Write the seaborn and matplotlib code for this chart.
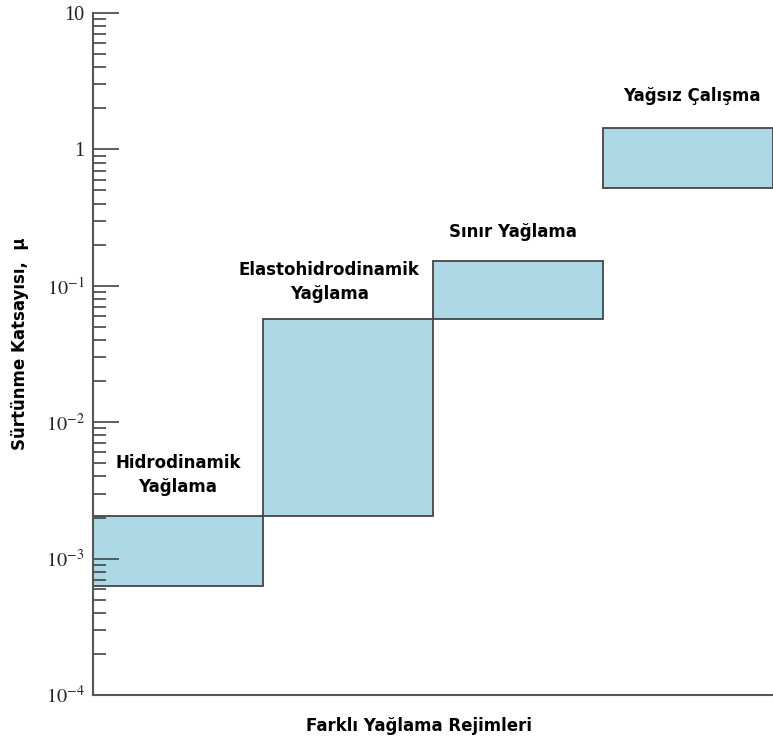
import matplotlib
matplotlib.use("Agg")
import matplotlib.pyplot as plt
import seaborn as sns
import numpy as np
import pandas as pd
from matplotlib.ticker import LogLocator, NullFormatter, FixedLocator

regimes = ["Hidrodinamik", "Elastohidrodinamik", "Sınır", "Yağsız"]
mu_low = [6.3e-4, 2.05e-3, 0.057, 0.52]
mu_high = [2.05e-3, 0.057, 0.152, 1.43]
labels = ["Hidrodinamik\nYağlama", "Elastohidrodinamik\nYağlama", "Sınır Yağlama", "Yağsız Çalışma"]
label_x = [0.0, 0.89, 1.97, 3.02]
label_y = [4.1e-3, 0.107, 0.248, 2.46]
ytick_vals = [1e-4, 1e-3, 1e-2, 1e-1, 1, 10]
ytick_labels = [r"$10^{-4}$", r"$10^{-3}$", r"$10^{-2}$", r"$10^{-1}$", "1", "10"]

sns.set_style("white")
plt.rcParams["font.family"] = ["DejaVu Sans"]
plt.rcParams["mathtext.fontset"] = "stix"
plt.rcParams["text.color"] = "black"
plt.rcParams["axes.labelcolor"] = "black"

fig = plt.figure(figsize=(7.73, 7.46), dpi=100)
ax = fig.add_axes([93 / 773, 51 / 746, 680 / 773, 682 / 746])

df = pd.DataFrame({"regime": regimes, "low": mu_low, "high": mu_high})
sns.barplot(data=df, x="regime", y="high", width=1.0, color="#ADD8E6",
            saturation=1, edgecolor="#454545", linewidth=1.3, ax=ax, zorder=1)
ax.set_yscale("log")
for patch, lo, hi in zip(ax.patches, df["low"], df["high"]):
    patch.set_y(lo)
    patch.set_height(hi - lo)
ax.set_axisbelow(False)

ax.set_ylim(1e-4, 10)
ax.set_xlim(-0.5, 3.5)
ax.set_xticks([])
ax.set_xlabel("Farklı Yağlama Rejimleri", fontsize=12, fontweight="bold")
ax.xaxis.set_label_coords(0.48, -0.032)
ax.set_ylabel("Sürtünme Katsayısı,  μ", fontsize=12, fontweight="bold")
ax.yaxis.set_label_coords(-0.094, 0.515)

ax.yaxis.set_major_locator(FixedLocator(ytick_vals))
ax.set_yticklabels(ytick_labels, fontsize=14.5)
for t in ax.get_yticklabels():
    t.set_fontfamily(["Liberation Serif", "DejaVu Serif"])
ax.yaxis.set_minor_locator(LogLocator(base=10, subs=np.arange(2, 10), numticks=20))
ax.yaxis.set_minor_formatter(NullFormatter())
ax.tick_params(axis="y", which="major", direction="in", length=19, width=1.2,
               color="#444444", labelcolor="#222222", left=True, pad=6)
ax.tick_params(axis="y", which="minor", direction="in", length=9.5, width=1.2,
               color="#444444", left=True)

for side in ["top", "right"]:
    ax.spines[side].set_visible(False)
for side in ["left", "bottom"]:
    ax.spines[side].set_visible(True)
    ax.spines[side].set_color("#555555")
    ax.spines[side].set_linewidth(1.5)
    ax.spines[side].set_zorder(3)

for txt, x, y in zip(labels, label_x, label_y):
    ax.text(x, y, txt, ha="center", va="center", fontsize=12, fontweight="bold",
            linespacing=1.45, color="black", zorder=3)

fig.savefig("out.png", dpi=100)
